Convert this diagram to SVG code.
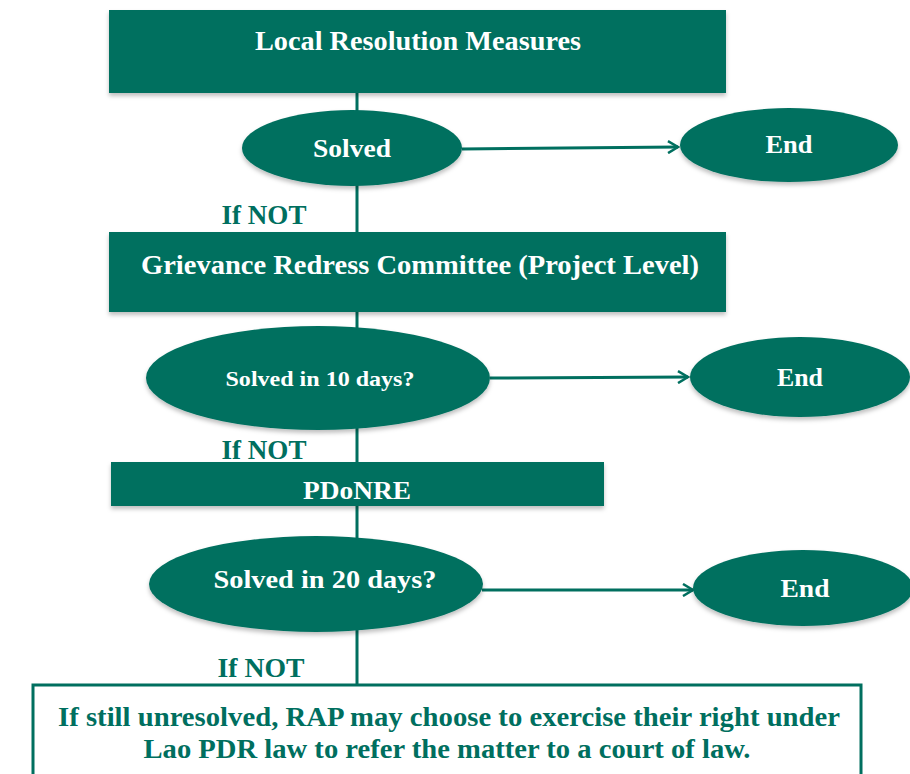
<svg xmlns="http://www.w3.org/2000/svg" width="910" height="774" viewBox="0 0 910 774">
<defs>
<filter id="sh" x="-10%" y="-10%" width="120%" height="130%">
<feDropShadow dx="0" dy="3" stdDeviation="2" flood-color="#000" flood-opacity="0.25"/>
</filter>
<marker id="ah" markerWidth="14" markerHeight="14" refX="12" refY="7" orient="auto" markerUnits="userSpaceOnUse">
<path d="M2,1 L12,7 L2,13" fill="none" stroke="#006f5f" stroke-width="2.5"/>
</marker>
<style>
.box{fill:#006f5f;filter:url(#sh)}
.ell{fill:#006f5f;filter:url(#sh)}
.w{fill:#fff;font-family:"Liberation Serif",serif;font-weight:bold;text-anchor:middle}
.g{fill:#006f5f;font-family:"Liberation Serif",serif;font-weight:bold;text-anchor:middle}
.ln{stroke:#006f5f;stroke-width:3;fill:none}
</style>
</defs>
<rect width="910" height="774" fill="#fff"/>
<g id="connectors">
<line class="ln" x1="357" y1="93" x2="357" y2="697"/>
<line class="ln" x1="462" y1="149" x2="678" y2="147" marker-end="url(#ah)"/>
<line class="ln" x1="490" y1="378" x2="688" y2="377" marker-end="url(#ah)"/>
<line class="ln" x1="482" y1="590" x2="693" y2="590" marker-end="url(#ah)"/>
</g>
<g id="n1"><rect class="box" x="109" y="10" width="617" height="83"/><text class="w" x="418" y="50" font-size="27" textLength="326" lengthAdjust="spacingAndGlyphs">Local Resolution Measures</text></g>
<g id="n2"><ellipse class="ell" cx="352" cy="148" rx="110" ry="38"/><text class="w" x="352" y="157" font-size="26" textLength="78" lengthAdjust="spacingAndGlyphs">Solved</text></g>
<g id="n3"><ellipse class="ell" cx="789" cy="145" rx="109" ry="37"/><text class="w" x="789" y="153" font-size="26" textLength="47" lengthAdjust="spacingAndGlyphs">End</text></g>
<g id="l1"><text class="g" x="264" y="224" font-size="27" textLength="85" lengthAdjust="spacingAndGlyphs">If NOT</text></g>
<g id="n4"><rect class="box" x="109" y="232" width="617" height="80"/><text class="w" x="420" y="274" font-size="27" textLength="558" lengthAdjust="spacingAndGlyphs">Grievance Redress Committee (Project Level)</text></g>
<g id="n5"><ellipse class="ell" cx="318" cy="378" rx="172" ry="52"/><text class="w" x="320" y="386" font-size="22" textLength="189" lengthAdjust="spacingAndGlyphs">Solved in 10 days?</text></g>
<g id="n6"><ellipse class="ell" cx="800" cy="377" rx="110" ry="40"/><text class="w" x="800" y="386" font-size="26" textLength="46" lengthAdjust="spacingAndGlyphs">End</text></g>
<g id="l2"><text class="g" x="264" y="459" font-size="27" textLength="85" lengthAdjust="spacingAndGlyphs">If NOT</text></g>
<g id="n7"><rect class="box" x="111" y="462" width="493" height="44"/><text class="w" x="357" y="499" font-size="26" textLength="108" lengthAdjust="spacingAndGlyphs">PDoNRE</text></g>
<g id="n8"><ellipse class="ell" cx="316" cy="584" rx="167" ry="48"/><text class="w" x="325" y="588" font-size="26" textLength="223" lengthAdjust="spacingAndGlyphs">Solved in 20 days?</text></g>
<g id="n9"><ellipse class="ell" cx="803" cy="588" rx="110" ry="38"/><text class="w" x="805" y="597" font-size="26" textLength="49" lengthAdjust="spacingAndGlyphs">End</text></g>
<g id="l3"><text class="g" x="261" y="677" font-size="27" textLength="87" lengthAdjust="spacingAndGlyphs">If NOT</text></g>
<g id="n10"><rect x="33" y="685" width="828" height="95" fill="#fff" stroke="#006f5f" stroke-width="3"/>
<text class="g" x="449" y="726" font-size="27" textLength="782" lengthAdjust="spacingAndGlyphs">If still unresolved, RAP may choose to exercise their right under</text>
<text class="g" x="447" y="758" font-size="27" textLength="607" lengthAdjust="spacingAndGlyphs">Lao PDR law to refer the matter to a court of law.</text></g>
</svg>
